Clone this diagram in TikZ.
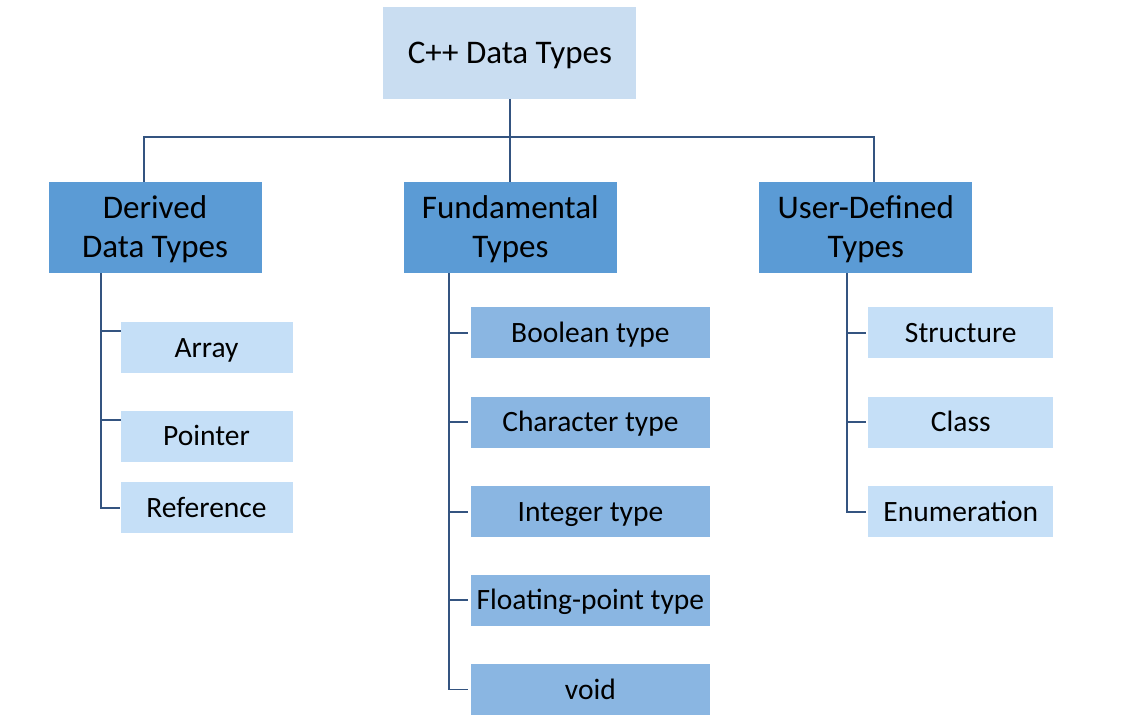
\documentclass[tikz,border=0pt]{standalone}
\usepackage{fontspec}
\setmainfont{Carlito}
\usepackage{tikz}
\usetikzlibrary{positioning}
\definecolor{rootblue}{RGB}{201,221,241}
\definecolor{midblue}{RGB}{91,155,213}
\definecolor{paleblue}{RGB}{197,223,247}
\definecolor{softblue}{RGB}{138,182,226}
\definecolor{linkblue}{RGB}{52,84,128}

\begin{document}
\begin{tikzpicture}[x=1pt, y=-1pt,
  rootbox/.style={fill=rootblue, minimum width=253pt, minimum height=92pt, inner sep=0pt, text height=21.3pt, text depth=0pt, font=\fontsize{33}{40}\selectfont},
  groupbox/.style={fill=midblue, minimum width=213pt, minimum height=91pt, inner sep=0pt, align=center, text height=60.3pt, text depth=0pt, font=\fontsize{33}{39}\selectfont},
  leafbox/.style={minimum height=51pt, inner sep=0pt, text height=19pt, text depth=0pt, font=\fontsize{29.5}{35}\selectfont},
  link/.style={draw=linkblue, line width=1.9pt}]
\useasboundingbox (0,0) rectangle (1125,717);
% second row
\node[groupbox] (derived) at (155,227.5) {Derived\\Data Types};
\node[groupbox, right=142pt of derived] (fund) {Fundamental\\Types};
\node[groupbox, right=142pt of fund] (user) {User-Defined\\Types};
\node[rootbox, above=83pt of fund, xshift=-0.5pt] (root) {C++ Data Types};
% derived types
\node[leafbox, fill=paleblue, minimum width=172pt, anchor=north west] (array) at ([xshift=72pt, yshift=-49pt]derived.south west) {Array};
\node[leafbox, fill=paleblue, minimum width=172pt, below=37pt of array] (pointer) {Pointer};
\node[leafbox, fill=paleblue, minimum width=172pt, below=20pt of pointer] (reference) {Reference};
% fundamental types
\node[leafbox, fill=softblue, minimum width=239pt, anchor=north west] (bool) at ([xshift=67pt, yshift=-34pt]fund.south west) {Boolean type};
\node[leafbox, fill=softblue, minimum width=239pt, below=38pt of bool] (char) {Character type};
\node[leafbox, fill=softblue, minimum width=239pt, below=38pt of char] (int) {Integer type};
\node[leafbox, fill=softblue, minimum width=239pt, below=37pt of int] (float) {Floating-point type};
\node[leafbox, fill=softblue, minimum width=239pt, below=38pt of float] (void) {void};
% user-defined types
\node[leafbox, fill=paleblue, minimum width=185pt, anchor=north west] (struct) at ([xshift=109pt, yshift=-34pt]user.south west) {Structure};
\node[leafbox, fill=paleblue, minimum width=185pt, below=38pt of struct] (class) {Class};
\node[leafbox, fill=paleblue, minimum width=185pt, below=38pt of class] (enum) {Enumeration};
% connectors
\coordinate[below=38pt of root.south] (hub);
\draw[link] (root.south) -- (hub);
\draw[link] (hub) -| ([xshift=-11pt]derived.north);
\draw[link] (hub) -| ([xshift=8pt]user.north);
\draw[link] (hub) -- (hub |- fund.north);
\draw[link] ([xshift=53pt]derived.south west) |- (reference.west);
\draw[link] ([xshift=53pt]derived.south west |- pointer.north) ++(0,9) -- ++(20,0);
\draw[link] ([xshift=53pt]derived.south west |- array.north) ++(0,9) -- ++(20,0);
\draw[link] ([xshift=45pt]fund.south west) |- ([xshift=-3pt]void.west);
\foreach \leaf in {bool,char,int,float}
  \draw[link] ([xshift=45pt]fund.south west |- \leaf.west) -- ([xshift=-3pt]\leaf.west);
\draw[link] ([xshift=88pt]user.south west) |- ([xshift=-2pt]enum.west);
\foreach \leaf in {struct,class}
  \draw[link] ([xshift=88pt]user.south west |- \leaf.west) -- ([xshift=-2pt]\leaf.west);
\end{tikzpicture}
\end{document}
